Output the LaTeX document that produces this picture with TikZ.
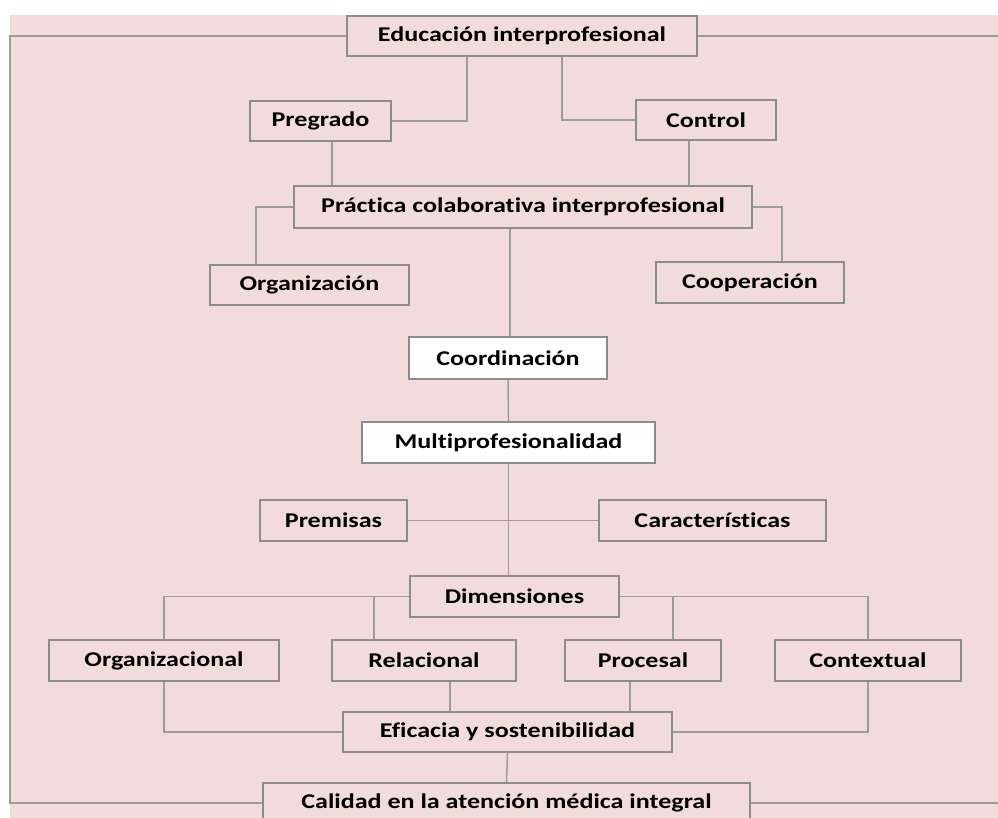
\documentclass[tikz,border=0pt]{standalone}
\usepackage{fontspec}
\setmainfont{Carlito}[FakeStretch=1.24, Ligatures=NoCommon]
\definecolor{bgpink}{RGB}{242,220,219}
\definecolor{linegray}{RGB}{155,155,155}
\definecolor{boxgray}{RGB}{140,140,140}
\tikzset{
  box/.style={draw=boxgray, line width=2pt, fill=bgpink, inner sep=0pt,
    font=\fontsize{21}{25}\selectfont\bfseries, text=black},
  wbox/.style={box, fill=white},
  conn/.style={draw=linegray, line width=1.5pt}
}
\begin{document}
\begin{tikzpicture}[x=1pt,y=-1pt]
\useasboundingbox (0,0) rectangle (998,818);
\clip (0,0) rectangle (998,818);
\fill[bgpink] (10,15) rectangle (998,818);

% nodes
\node[box, minimum width=350, minimum height=40] (edu) at (522,36) {Educación interprofesional};
\node[box, minimum width=141, minimum height=40] (pre) at (320.5,121) {Pregrado};
\node[box, minimum width=140, minimum height=40] (con) at (706,120) {Control};
\node[box, minimum width=458, minimum height=42] (pra) at (523,207) {Práctica colaborativa interprofesional};
\node[box, minimum width=199, minimum height=40] (org) at (309.5,285) {Organización};
\node[box, minimum width=188, minimum height=41] (coop) at (750,282.5) {Cooperación};
\node[wbox, minimum width=198, minimum height=42] (coord) at (508,358) {Coordinación};
\node[wbox, minimum width=293, minimum height=41] (multi) at (508.5,442.5) {Multiprofesionalidad};
\node[box, minimum width=147, minimum height=41] (prem) at (333.5,520.5) {Premisas};
\node[box, minimum width=227, minimum height=41] (car) at (712.5,520.5) {Características};
\node[box, minimum width=209, minimum height=41] (dim) at (514.5,596.5) {Dimensiones};
\node[box, minimum width=230, minimum height=41] (orgz) at (164,660.5) {Organizacional};
\node[box, minimum width=184, minimum height=41] (rel) at (424,660.5) {Relacional};
\node[box, minimum width=156, minimum height=41] (proc) at (643,660.5) {Procesal};
\node[box, minimum width=186, minimum height=41] (ctx) at (868,660.5) {Contextual};
\node[box, minimum width=329, minimum height=40] (efi) at (507.5,732) {Eficacia y sostenibilidad};
\node[box, minimum width=487, minimum height=40] (cal) at (506.5,803) {Calidad en la atención médica integral};

% frame coordinates
\coordinate (tl) at (10,36);
\coordinate (bl) at (10,803);
\coordinate (tr) at (998,36);
\coordinate (br) at (998,803);

% connectors
\draw[conn] (edu.west) -- (tl) -- (bl) -- (cal.west);
\draw[conn] (edu.east) -- (tr);
\draw[conn] (cal.east) -- (br);

\draw[conn] ([xshift=-55]edu.south) |- (pre.east);
\draw[conn] ([xshift=40]edu.south) |- (con.west);
\draw[conn] ([xshift=11.5]pre.south) -- ([xshift=11.5]pre.south |- pra.north);
\draw[conn] ([xshift=-17]con.south) -- ([xshift=-17]con.south |- pra.north);
\draw[conn] (pra.west) -| ([xshift=-53.5]org.north);
\draw[conn] (pra.east) -| ([xshift=32]coop.north);
\draw[conn] ([xshift=2]coord.north |- pra.south) -- ([xshift=2]coord.north);
\draw[conn] (coord.south) -- (multi.north);
\draw[conn] (multi.south) -- (multi.south |- dim.north);
\draw[conn] (prem.east) -- (car.west);

\draw[conn] (dim.west) -| (orgz.north);
\draw[conn] ([xshift=-50]rel.north) -- ([xshift=-50]rel.north |- dim.west);
\draw[conn] (dim.east) -| (ctx.north);
\draw[conn] ([xshift=30]proc.north) -- ([xshift=30]proc.north |- dim.east);

\draw[conn] (orgz.south) |- (efi.west);
\draw[conn] (ctx.south) |- (efi.east);
\draw[conn] ([xshift=26]rel.south) -- ([xshift=26]rel.south |- efi.north);
\draw[conn] ([xshift=-13]proc.south) -- ([xshift=-13]proc.south |- efi.north);
\draw[conn] (efi.south) -- (cal.north);
\end{tikzpicture}
\end{document}
